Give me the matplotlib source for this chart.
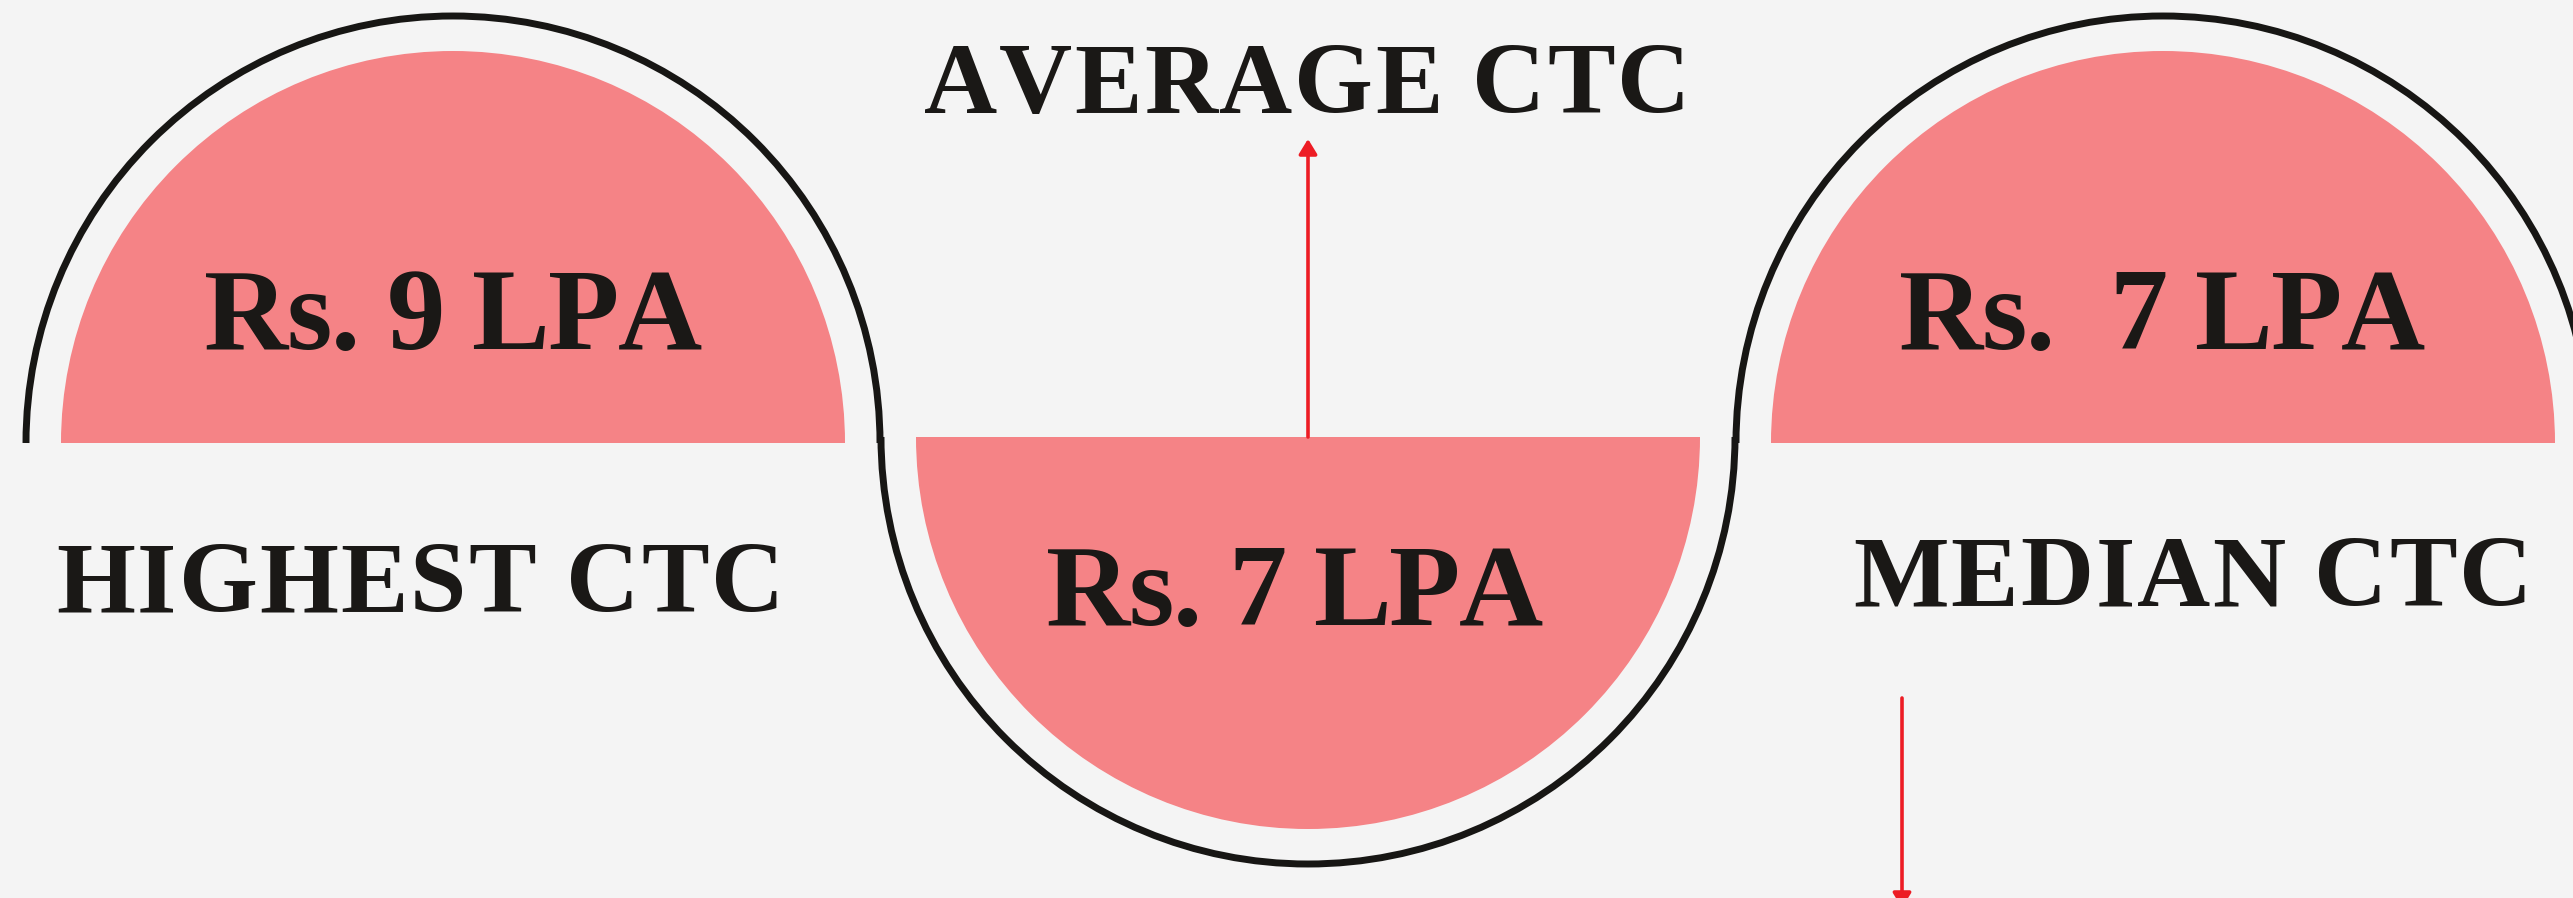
#CTC summary graphic: three half discs joined by an S shaped outline
import matplotlib
matplotlib.use('Agg')
import matplotlib.pyplot as plt
from matplotlib.patches import Wedge, Arc, FancyArrowPatch
from matplotlib import font_manager
from matplotlib.ft2font import FT2Font

W, H = 2573, 898
dpi = 100

#values and captions
labels = ['HIGHEST CTC', 'AVERAGE CTC', 'MEDIAN CTC']
amounts = ['Rs. 9 LPA', 'Rs. 7 LPA', 'Rs.  7 LPA']

bg_col = '#f4f4f4'
pink = '#f58386'
ink = '#1a1816'
red = '#ed1c24'

#geometry in pixels (y grows downward)
cx = [453, 1308, 2163]
cy = [443, 437, 443]
r_in = 392
r_out = 427
upper = [True, False, True]

fig = plt.figure(figsize=(W/dpi, H/dpi), dpi=dpi, facecolor=bg_col)
ax = fig.add_axes([0, 0, 1, 1])
ax.set_xlim(0, W)
ax.set_ylim(H, 0)
ax.set_facecolor(bg_col)
ax.axis('off')

for i in range(3):
    if upper[i]:
        t1, t2 = 180, 360
    else:
        t1, t2 = 0, 180
    ax.add_patch(Wedge((cx[i], cy[i]), r_in, t1, t2, facecolor=pink, edgecolor='none'))
    ax.add_patch(Arc((cx[i], cy[i]), 2*r_out, 2*r_out, theta1=t1, theta2=t2,
                     color='#171614', lw=5, capstyle='butt'))

#red pointer arrows
arr_up = FancyArrowPatch((1308, 437), (1308, 139), arrowstyle='-|>,head_length=9,head_width=5.5',
                         mutation_scale=1, color=red, lw=2.6, shrinkA=0, shrinkB=0)
ax.add_patch(arr_up)
arr_dn = FancyArrowPatch((1902, 698), (1902, 908), arrowstyle='-|>,head_length=9,head_width=5.5',
                         mutation_scale=1, color=red, lw=2.6, shrinkA=0, shrinkB=0)
ax.add_patch(arr_dn)

fprop = font_manager.FontProperties(family='Liberation Serif', weight='bold')
fpath = font_manager.findfont(fprop)

def spaced_text(s, x0, x1, y, size):
    #lay out characters one by one so the word spans x0..x1 (no kerning)
    ft = FT2Font(fpath)
    ft.set_size(size, dpi)
    adv = []
    for c in s:
        g = ft.load_char(ord(c))
        adv.append(g.linearHoriAdvance / 65536.0)
    natural = sum(adv[:-1]) + adv[-1]
    track = (x1 - x0 - natural) / (len(s) - 1)
    x = x0
    for c, a in zip(s, adv):
        ax.text(x, y, c, fontproperties=fprop, fontsize=size, color=ink,
                ha='left', va='baseline')
        x += a + track

#amounts inside the discs
amt_x0 = [204, 1046, 1899]
amt_x1 = [702, 1543, 2425]
amt_y = [349, 625, 349]
for i in range(3):
    spaced_text(amounts[i], amt_x0[i], amt_x1[i], amt_y[i], 84)

#captions
lab_x0 = [56, 924, 1853]
lab_x1 = [784, 1690, 2532]
lab_y = [612, 113, 606]
for i in range(3):
    spaced_text(labels[i], lab_x0[i], lab_x1[i], lab_y[i], 73)

fig.savefig('out.png', dpi=dpi, facecolor=bg_col)
plt.close()
